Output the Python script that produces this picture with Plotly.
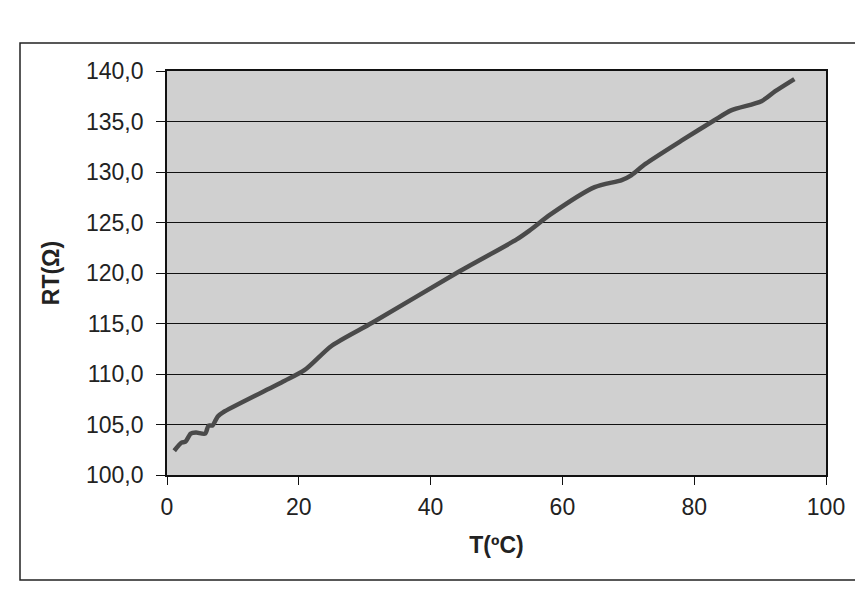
import plotly.graph_objects as go

# Temperature (°C) and resistance (Ω)
temp_c = [1.1, 2.2, 2.8, 3.6, 4.4, 5.8, 6.3, 6.9, 7.7, 8.5, 17.8, 20.9,
          25.0, 31.2, 44.2, 53.0, 55.0, 58.2, 64.9, 69.0, 70.5, 72.6,
          78.3, 83.0, 85.6, 90.2, 92.3, 95.2]
res_ohm = [102.4, 103.2, 103.3, 104.1, 104.2, 104.1, 104.9, 104.9, 105.8, 106.2,
           109.3, 110.4, 112.8, 115.1, 120.1, 123.3, 124.2, 125.8, 128.5, 129.2,
           129.7, 130.8, 133.2, 135.1, 136.1, 137.0, 138.0, 139.2]

x_ticks = [0, 20, 40, 60, 80, 100]
y_ticks = [100, 105, 110, 115, 120, 125, 130, 135, 140]

FONT = "Liberation Sans, Arial, sans-serif"
FS = 23

fig = go.Figure()
fig.add_trace(go.Scatter(
    x=temp_c, y=res_ohm, mode="lines",
    line=dict(color="#4a4a4a", width=4.5, shape="spline", smoothing=0.7),
    showlegend=False, hoverinfo="x+y",
))

L, R, T, B = 159, 45, 63, 130
W, H = 863, 597
pw, ph = W - L - R, H - T - B

fig.update_layout(
    width=W, height=H,
    margin=dict(l=L, r=R, t=T, b=B),
    paper_bgcolor="white",
    plot_bgcolor="#d0d0d0",
    separators=", ",
    font=dict(family=FONT, size=FS, color="#222"),
    xaxis=dict(
        range=[0, 100], tickvals=x_ticks, ticks="outside", ticklen=8,
        tickcolor="#111", showline=True, linecolor="#111", linewidth=1.8,
        mirror=True, showgrid=False, zeroline=False,
        ticklabelstandoff=2,
        title=dict(text="<b>T(ºC)</b>", font=dict(family=FONT, size=FS), standoff=18),
    ),
    yaxis=dict(
        range=[100, 140], tickvals=y_ticks, tickformat=".1f", ticks="outside",
        ticklen=9, tickcolor="#111", showline=True, linecolor="#111",
        linewidth=1.8, mirror=True, showgrid=True, gridcolor="#111",
        gridwidth=1, zeroline=False, ticklabelstandoff=8,
        title=dict(text="<b>RT(Ω)</b>", font=dict(family=FONT, size=FS), standoff=20),
    ),
    shapes=[dict(
        type="rect", xref="paper", yref="paper",
        x0=(12 - L) / pw, x1=(857 - L) / pw,
        y0=(H - B - 572) / ph, y1=(H - B - 35) / ph,
        line=dict(color="#222", width=1.5), fillcolor="rgba(0,0,0,0)", layer="below",
    )],
)

fig.write_html("out.html")
